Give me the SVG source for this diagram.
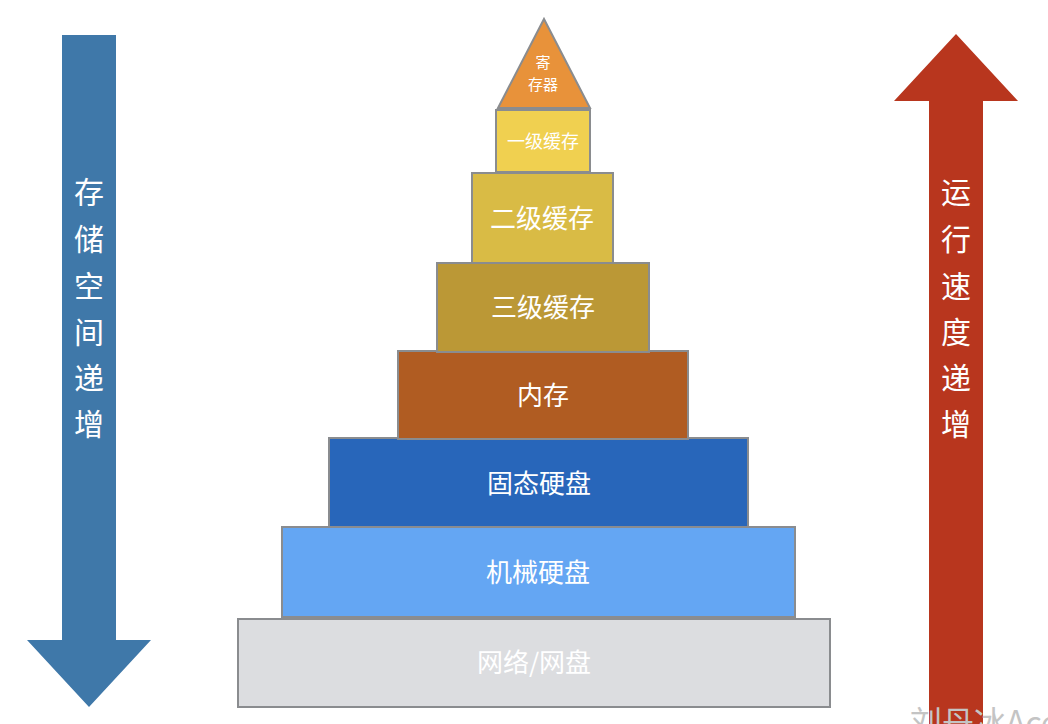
<svg xmlns="http://www.w3.org/2000/svg" width="1048" height="724" viewBox="0 0 1048 724">
<style>
.box{stroke:#8a8c8f;stroke-width:2}
.t{font-family:"Noto Sans CJK SC","Noto Sans",sans-serif;fill:#fff;text-anchor:middle}
.v{font-family:"Noto Sans CJK SC",sans-serif;fill:#fff;text-anchor:middle;font-size:30px}
</style>
<rect width="1048" height="724" fill="#fff"/>
<g id="arrow-left">
<polygon points="62,35 116,35 116,640 151,640 89,707 27,640 62,640" fill="#3f78a9"/>
<text class="v" x="89" y="203">存</text>
<text class="v" x="89" y="250">储</text>
<text class="v" x="89" y="297">空</text>
<text class="v" x="89" y="343">间</text>
<text class="v" x="89" y="389">递</text>
<text class="v" x="89" y="435">增</text>
</g>
<g id="arrow-right">
<polygon points="956,34 1018,101 983,101 983,724 929,724 929,101 894,101" fill="#b8361e"/>
<text class="v" x="956" y="203">运</text>
<text class="v" x="956" y="250">行</text>
<text class="v" x="956" y="297">速</text>
<text class="v" x="956" y="343">度</text>
<text class="v" x="956" y="389">递</text>
<text class="v" x="956" y="435">增</text>
</g>
<g id="net">
<rect class="box" x="238" y="619" width="592" height="88" fill="#dcdde0"/>
<text class="t" x="534" y="672" font-size="26">网络/网盘</text>
</g>
<g id="hdd">
<rect class="box" x="282" y="527" width="513" height="90" fill="#64a6f3"/>
<text class="t" x="538" y="582" font-size="26">机械硬盘</text>
</g>
<g id="ssd">
<rect class="box" x="329" y="438" width="419" height="89" fill="#2866ba"/>
<text class="t" x="539" y="493" font-size="26">固态硬盘</text>
</g>
<g id="mem">
<rect class="box" x="398" y="351" width="290" height="88" fill="#b05c22"/>
<text class="t" x="543" y="405" font-size="26">内存</text>
</g>
<g id="l3">
<rect class="box" x="437" y="263" width="212" height="89" fill="#bb9836"/>
<text class="t" x="543" y="317" font-size="26">三级缓存</text>
</g>
<g id="l2">
<rect class="box" x="472" y="173" width="141" height="90" fill="#d9bb45"/>
<text class="t" x="542" y="228" font-size="26">二级缓存</text>
</g>
<g id="l1">
<rect class="box" x="496" y="110" width="94" height="62" fill="#f0d050"/>
<text class="t" x="543" y="148" font-size="18">一级缓存</text>
</g>
<g id="reg">
<polygon class="box" points="544,19 590,108 498,108" fill="#e8923a"/>
<text class="t" x="543" y="68" font-size="15">寄</text>
<text class="t" x="543" y="90" font-size="15">存器</text>
</g>
<text x="910" y="734" font-family="Noto Sans CJK SC,sans-serif" font-size="32" fill="#c4c4c4">刘丹冰Ace</text>
</svg>
